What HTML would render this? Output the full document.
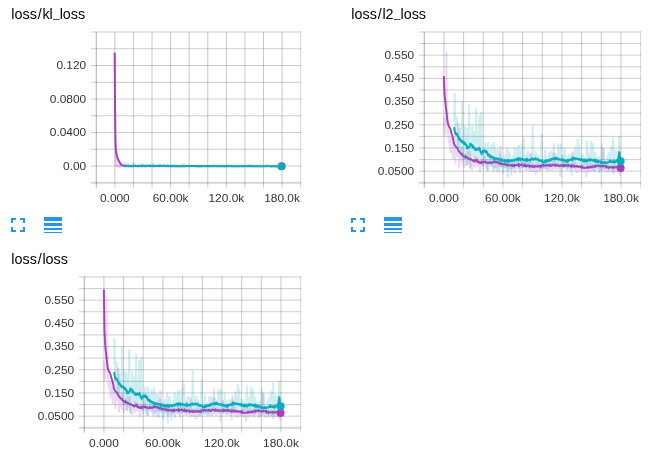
<!DOCTYPE html>
<html><head><meta charset="utf-8"><title>TensorBoard scalars</title>
<style>
html,body{margin:0;padding:0;background:#fff;}
body{width:672px;height:453px;overflow:hidden;font-family:"Liberation Sans",sans-serif;}
svg{display:block;}
</style></head>
<body>
<svg width="672" height="453" viewBox="0 0 672 453">
<rect width="672" height="453" fill="#fff"/>
<g stroke="#3c3c3c" stroke-opacity="0.28" stroke-width="1" fill="none"><line x1="90.98" y1="32.00" x2="301.07" y2="32.00" stroke-opacity="0.26"/><line x1="90.98" y1="48.76" x2="301.07" y2="48.76" stroke-opacity="0.26"/><line x1="90.98" y1="65.51" x2="301.07" y2="65.51" stroke-opacity="0.26"/><line x1="90.98" y1="82.27" x2="301.07" y2="82.27" stroke-opacity="0.26"/><line x1="90.98" y1="99.02" x2="301.07" y2="99.02" stroke-opacity="0.26"/><line x1="90.98" y1="115.78" x2="301.07" y2="115.78" stroke-opacity="0.26"/><line x1="90.98" y1="132.53" x2="301.07" y2="132.53" stroke-opacity="0.26"/><line x1="90.98" y1="149.29" x2="301.07" y2="149.29" stroke-opacity="0.26"/><line x1="90.98" y1="166.04" x2="301.07" y2="166.04" stroke-opacity="0.26"/><line x1="90.98" y1="182.80" x2="301.07" y2="182.80" stroke-width="2" stroke-opacity="0.21"/><line x1="96.28" y1="31.60" x2="96.28" y2="187.70" stroke-opacity="0.43"/><line x1="114.86" y1="31.60" x2="114.86" y2="187.70"/><line x1="133.44" y1="31.60" x2="133.44" y2="187.70"/><line x1="152.02" y1="31.60" x2="152.02" y2="187.70"/><line x1="170.60" y1="31.60" x2="170.60" y2="187.70"/><line x1="189.18" y1="31.60" x2="189.18" y2="187.70"/><line x1="207.77" y1="31.60" x2="207.77" y2="187.70"/><line x1="226.35" y1="31.60" x2="226.35" y2="187.70"/><line x1="244.93" y1="31.60" x2="244.93" y2="187.70"/><line x1="263.51" y1="31.60" x2="263.51" y2="187.70"/><line x1="282.09" y1="31.60" x2="282.09" y2="187.70"/><line x1="300.67" y1="31.60" x2="300.67" y2="187.70" stroke-opacity="0.21"/></g>
<g stroke="#3c3c3c" stroke-opacity="0.28" stroke-width="1" fill="none"><line x1="418.96" y1="32.00" x2="641.07" y2="32.00" stroke-opacity="0.26"/><line x1="418.96" y1="43.60" x2="641.07" y2="43.60" stroke-opacity="0.26"/><line x1="418.96" y1="55.20" x2="641.07" y2="55.20" stroke-opacity="0.26"/><line x1="418.96" y1="66.80" x2="641.07" y2="66.80" stroke-opacity="0.26"/><line x1="418.96" y1="78.40" x2="641.07" y2="78.40" stroke-opacity="0.26"/><line x1="418.96" y1="90.00" x2="641.07" y2="90.00" stroke-opacity="0.26"/><line x1="418.96" y1="101.60" x2="641.07" y2="101.60" stroke-opacity="0.26"/><line x1="418.96" y1="113.20" x2="641.07" y2="113.20" stroke-opacity="0.26"/><line x1="418.96" y1="124.80" x2="641.07" y2="124.80" stroke-opacity="0.26"/><line x1="418.96" y1="136.40" x2="641.07" y2="136.40" stroke-opacity="0.26"/><line x1="418.96" y1="148.00" x2="641.07" y2="148.00" stroke-opacity="0.26"/><line x1="418.96" y1="159.60" x2="641.07" y2="159.60" stroke-opacity="0.26"/><line x1="418.96" y1="171.20" x2="641.07" y2="171.20" stroke-opacity="0.26"/><line x1="418.96" y1="182.80" x2="641.07" y2="182.80" stroke-width="2" stroke-opacity="0.21"/><line x1="424.26" y1="31.60" x2="424.26" y2="187.70" stroke-opacity="0.43"/><line x1="443.93" y1="31.60" x2="443.93" y2="187.70"/><line x1="463.61" y1="31.60" x2="463.61" y2="187.70"/><line x1="483.28" y1="31.60" x2="483.28" y2="187.70"/><line x1="502.95" y1="31.60" x2="502.95" y2="187.70"/><line x1="522.63" y1="31.60" x2="522.63" y2="187.70"/><line x1="542.30" y1="31.60" x2="542.30" y2="187.70"/><line x1="561.98" y1="31.60" x2="561.98" y2="187.70"/><line x1="581.65" y1="31.60" x2="581.65" y2="187.70"/><line x1="601.32" y1="31.60" x2="601.32" y2="187.70"/><line x1="621.00" y1="31.60" x2="621.00" y2="187.70"/><line x1="640.67" y1="31.60" x2="640.67" y2="187.70" stroke-opacity="0.21"/></g>
<g stroke="#3c3c3c" stroke-opacity="0.28" stroke-width="1" fill="none"><line x1="78.96" y1="276.95" x2="301.07" y2="276.95" stroke-opacity="0.26"/><line x1="78.96" y1="288.55" x2="301.07" y2="288.55" stroke-opacity="0.26"/><line x1="78.96" y1="300.15" x2="301.07" y2="300.15" stroke-opacity="0.26"/><line x1="78.96" y1="311.75" x2="301.07" y2="311.75" stroke-opacity="0.26"/><line x1="78.96" y1="323.35" x2="301.07" y2="323.35" stroke-opacity="0.26"/><line x1="78.96" y1="334.95" x2="301.07" y2="334.95" stroke-opacity="0.26"/><line x1="78.96" y1="346.55" x2="301.07" y2="346.55" stroke-opacity="0.26"/><line x1="78.96" y1="358.15" x2="301.07" y2="358.15" stroke-opacity="0.26"/><line x1="78.96" y1="369.75" x2="301.07" y2="369.75" stroke-opacity="0.26"/><line x1="78.96" y1="381.35" x2="301.07" y2="381.35" stroke-opacity="0.26"/><line x1="78.96" y1="392.95" x2="301.07" y2="392.95" stroke-opacity="0.26"/><line x1="78.96" y1="404.55" x2="301.07" y2="404.55" stroke-opacity="0.26"/><line x1="78.96" y1="416.15" x2="301.07" y2="416.15" stroke-opacity="0.26"/><line x1="78.96" y1="427.75" x2="301.07" y2="427.75" stroke-width="2" stroke-opacity="0.21"/><line x1="84.26" y1="276.55" x2="84.26" y2="432.65" stroke-opacity="0.43"/><line x1="103.93" y1="276.55" x2="103.93" y2="432.65"/><line x1="123.61" y1="276.55" x2="123.61" y2="432.65"/><line x1="143.28" y1="276.55" x2="143.28" y2="432.65"/><line x1="162.95" y1="276.55" x2="162.95" y2="432.65"/><line x1="182.63" y1="276.55" x2="182.63" y2="432.65"/><line x1="202.30" y1="276.55" x2="202.30" y2="432.65"/><line x1="221.98" y1="276.55" x2="221.98" y2="432.65"/><line x1="241.65" y1="276.55" x2="241.65" y2="432.65"/><line x1="261.32" y1="276.55" x2="261.32" y2="432.65"/><line x1="281.00" y1="276.55" x2="281.00" y2="432.65"/><line x1="300.67" y1="276.55" x2="300.67" y2="432.65" stroke-opacity="0.21"/></g>
<polygon points="115.2,125 115.6,145 116.1,151.5 116.8,155.5 117.8,158.8 119,161.2 120.2,163.3 121.5,164.8 122.5,165.8 121,166.5 115.6,166.7 114.9,150" fill="#a53fba" fill-opacity="0.17"/>
<polyline points="114.9,52.8 115.2,166.0" fill="none" stroke="#a53fba" stroke-width="1.5" stroke-opacity="0.2" stroke-linejoin="round" stroke-miterlimit="2.2" stroke-linecap="butt"/>
<polyline points="116.0,165.7 116.6,166.7 117.2,165.0 117.8,167.7 118.4,165.6 119.0,166.6 119.6,164.9 120.2,168.1 120.8,164.9 121.4,165.9 122.0,165.3 122.6,166.0 123.2,164.7 123.8,167.7 124.4,165.6 125.0,166.7 125.6,165.6 126.2,168.3 126.8,163.2 127.4,166.9 128.0,163.3 128.6,168.3 129.2,165.4 129.8,166.1 130.4,165.1 131.0,167.8 131.6,165.4 132.2,167.6 132.8,165.7 133.4,163.5 134.0,162.9 134.6,166.4 135.2,165.3 135.8,166.8 136.4,165.2 137.0,166.2 137.6,165.7 138.2,167.7 138.8,165.7 139.4,166.4 140.0,164.3 140.6,166.6 141.2,163.6 141.8,167.9 142.4,164.5 143.0,166.0 143.6,164.6 144.2,167.1 144.8,165.8 145.4,167.5 146.0,165.7 146.6,166.2 147.2,163.5 147.8,166.6 148.4,165.5 149.0,166.5 149.6,164.0 150.2,168.0 150.8,165.5 151.4,167.7 152.0,167.8 152.6,167.0 153.2,163.0 153.8,166.7 154.4,165.4 155.0,167.0 155.6,164.7 156.2,166.0 156.8,165.8 157.4,166.7 158.0,165.1 158.6,166.6 159.2,165.8 159.8,166.3 160.4,163.7 161.0,166.6 161.6,165.6 162.2,166.5 162.8,165.9 163.4,166.4 164.0,165.9 164.6,166.5 165.2,165.6 165.8,167.2 166.4,165.0 167.0,166.7 167.6,163.4 168.2,167.4 168.8,165.6 169.4,167.6 170.0,165.3 170.6,166.1 171.2,164.0 171.8,166.7 172.4,165.8 173.0,166.1 173.6,164.3 174.2,166.2 174.8,164.7 175.4,166.3 176.0,164.8 176.6,167.3 177.2,166.0 177.8,166.2 178.4,165.8 179.0,166.2 179.6,165.9 180.2,166.7 180.8,166.0 181.4,166.8 182.0,163.6 182.6,167.3 183.2,165.0 183.8,166.6 184.4,163.6 185.0,166.1 185.6,165.5 186.2,166.1 186.8,165.9 187.4,166.2 188.0,164.7 188.6,166.4 189.2,165.4 189.8,167.4 190.4,165.6 191.0,167.2 191.6,165.8 192.2,166.7 192.8,165.5 193.4,166.3 194.0,166.1 194.6,167.2 195.2,165.2 195.8,166.2 196.4,165.4 197.0,166.1 197.6,165.3 198.2,166.6 198.8,165.9 199.4,166.8 200.0,167.6 200.6,167.4 201.2,166.0 201.8,166.5 202.4,166.0 203.0,166.2 203.6,165.7 204.2,166.2 204.8,166.0 205.4,166.7 206.0,166.0 206.6,166.8 207.2,165.5 207.8,166.4 208.4,165.9 209.0,166.8 209.6,166.0 210.2,166.4 210.8,165.2 211.4,166.7 212.0,165.5 212.6,167.1 213.2,164.6 213.8,166.4 214.4,165.1 215.0,166.2 215.6,165.7 216.2,166.2 216.8,166.1 217.4,166.2 218.0,165.2 218.6,166.5 219.2,165.9 219.8,166.3 220.4,166.1 221.0,166.7 221.6,165.8 222.2,166.6 222.8,165.9 223.4,167.4 224.0,165.7 224.6,167.5 225.2,166.1 225.8,166.6 226.4,165.5 227.0,167.2 227.6,163.9 228.2,166.2 228.8,165.9 229.4,166.4 230.0,165.6 230.6,166.9 231.2,166.1 231.8,166.8 232.4,165.9 233.0,167.5 233.6,165.9 234.2,166.5 234.8,166.1 235.4,166.2 236.0,166.1 236.6,166.6 237.2,165.8 237.8,167.1 238.4,165.5 239.0,167.1 239.6,165.8 240.2,166.3 240.8,165.7 241.4,166.7 242.0,166.0 242.6,166.6 243.2,166.2 243.8,166.6 244.4,165.3 245.0,166.4 245.6,165.0 246.2,166.3 246.8,166.0 247.4,166.9 248.0,165.9 248.6,167.1 249.2,164.0 249.8,166.3 250.4,166.2 251.0,166.9 251.6,165.3 252.2,166.3 252.8,164.7 253.4,166.4 254.0,165.2 254.6,167.1 255.2,165.5 255.8,166.8 256.4,165.4 257.0,167.0 257.6,166.0 258.2,166.8 258.8,165.6 259.4,166.5 260.0,165.0 260.6,167.6 261.2,166.2 261.8,166.7 262.4,166.0 263.0,166.5 263.6,166.1 264.2,166.8 264.8,165.7 265.4,166.7 266.0,164.2 266.6,166.5 267.2,165.3 267.8,166.5 268.4,164.1 269.0,166.3 269.6,165.4 270.2,166.4 270.8,165.6 271.4,166.8 272.0,165.5 272.6,166.4 273.2,166.0 273.8,167.6 274.4,166.1 275.0,166.5 275.6,165.5 276.2,166.6 276.8,166.1 277.4,166.7 278.0,166.0 278.6,166.6 279.2,164.3 279.8,166.9 280.4,165.6 281.0,166.4" fill="none" stroke="#a53fba" stroke-width="1.6" stroke-opacity="0.2" stroke-linejoin="bevel" stroke-miterlimit="2.2" stroke-linecap="butt"/>
<polyline points="124.3,162.4 124.9,166.1 125.5,162.5 126.1,166.1 126.7,165.7 127.3,167.0 127.9,165.5 128.5,166.9 129.1,163.7 129.7,166.2 130.3,165.5 130.9,168.1 131.5,165.0 132.1,167.2 132.7,163.5 133.3,166.5 133.9,164.8 134.5,167.7 135.1,165.1 135.7,166.5 136.3,165.6 136.9,166.6 137.5,165.2 138.1,167.5 138.7,163.5 139.3,166.3 139.9,165.2 140.5,167.8 141.1,164.9 141.7,166.4 142.3,163.4 142.9,166.4 143.5,165.6 144.1,166.3 144.7,165.1 145.3,167.7 145.9,165.8 146.5,166.5 147.1,165.8 147.7,167.0 148.3,165.9 148.9,166.2 149.5,164.0 150.1,166.0 150.7,165.4 151.3,166.7 151.9,165.2 152.5,166.1 153.1,164.2 153.7,166.2 154.3,165.4 154.9,166.6 155.5,165.7 156.1,166.7 156.7,165.6 157.3,166.5 157.9,165.2 158.5,166.3 159.1,163.8 159.7,166.0 160.3,165.7 160.9,166.6 161.5,164.2 162.1,166.3 162.7,164.0 163.3,166.7 163.9,165.9 164.5,166.1 165.1,164.6 165.7,166.4 166.3,165.7 166.9,166.7 167.5,165.8 168.1,166.3 168.7,166.0 169.3,166.3 169.9,165.5 170.5,166.3 171.1,165.9 171.7,166.9 172.3,165.3 172.9,166.6 173.5,165.0 174.1,166.2 174.7,164.5 175.3,167.2 175.9,165.6 176.5,166.3 177.1,165.6 177.7,167.3 178.3,165.2 178.9,167.0 179.5,165.7 180.1,166.2 180.7,165.8 181.3,166.9 181.9,165.2 182.5,166.4 183.1,164.4 183.7,166.8 184.3,166.0 184.9,166.9 185.5,165.8 186.1,166.1 186.7,166.0 187.3,166.3 187.9,165.9 188.5,166.6 189.1,166.0 189.7,166.6 190.3,166.0 190.9,166.2 191.5,165.9 192.1,166.1 192.7,166.0 193.3,167.2 193.9,165.9 194.5,166.6 195.1,166.0 195.7,166.4 196.3,165.9 196.9,166.2 197.5,165.1 198.1,167.3 198.7,166.1 199.3,166.8 199.9,166.1 200.5,166.8 201.1,166.0 201.7,166.6 202.3,165.4 202.9,166.1 203.5,165.4 204.1,166.5 204.7,166.0 205.3,166.2 205.9,165.9 206.5,166.8 207.1,166.0 207.7,166.4 208.3,164.9 208.9,166.2 209.5,165.8 210.1,166.3 210.7,165.6 211.3,166.7 211.9,166.1 212.5,166.3 213.1,165.4 213.7,166.9 214.3,164.5 214.9,166.1 215.5,165.2 216.1,166.2 216.7,166.1 217.3,166.8 217.9,165.9 218.5,166.8 219.1,166.1 219.7,166.9 220.3,165.9 220.9,166.4 221.5,165.3 222.1,166.4 222.7,165.0 223.3,166.6 223.9,165.2 224.5,166.3 225.1,165.8 225.7,166.3 226.3,166.1 226.9,166.5 227.5,165.2 228.1,167.0 228.7,165.3 229.3,166.2 229.9,164.5 230.5,166.4 231.1,165.1 231.7,166.7 232.3,165.4 232.9,166.7 233.5,166.1 234.1,166.7 234.7,166.1 235.3,166.7 235.9,166.0 236.5,166.3 237.1,165.8 237.7,166.5 238.3,165.8 238.9,166.2 239.5,165.2 240.1,166.7 240.7,165.5 241.3,166.6 241.9,166.2 242.5,166.9 243.1,165.4 243.7,166.4 244.3,165.3 244.9,166.4 245.5,166.1 246.1,166.3 246.7,165.9 247.3,167.2 247.9,165.9 248.5,166.6 249.1,165.7 249.7,166.2 250.3,164.6 250.9,166.7 251.5,164.8 252.1,166.4 252.7,165.4 253.3,167.3 253.9,165.7 254.5,166.4 255.1,166.1 255.7,166.6 256.3,166.2 256.9,166.6 257.5,166.2 258.1,166.4 258.7,166.1 259.3,166.7 259.9,166.0 260.5,166.6 261.1,166.2 261.7,166.8 262.3,166.0 262.9,166.3 263.5,165.4 264.1,166.5 264.7,165.2 265.3,166.8 265.9,164.7 266.5,166.4 267.1,164.7 267.7,166.4 268.3,165.9 268.9,166.3 269.5,166.1 270.1,166.5 270.7,166.1 271.3,166.4 271.9,164.7 272.5,166.4 273.1,165.4 273.7,166.7 274.3,165.5 274.9,166.7 275.5,165.9 276.1,166.7 276.7,166.0 277.3,166.5 277.9,165.1 278.5,166.8 279.1,165.8 279.7,166.6 280.3,166.3 280.9,166.7 281.5,165.7" fill="none" stroke="#0aabc0" stroke-width="1.6" stroke-opacity="0.2" stroke-linejoin="bevel" stroke-miterlimit="2.2" stroke-linecap="butt"/>
<polyline points="114.7,52.8 115.0,100.0 115.3,130.0 115.6,145.0 116.1,151.5 116.8,155.5 117.8,158.8 119.0,161.2 120.2,163.3 121.5,164.8 123.0,165.5 125.0,165.8" fill="none" stroke="#a53fba" stroke-width="2.0" stroke-opacity="1.0" stroke-linejoin="round" stroke-miterlimit="2.2" stroke-linecap="butt"/>
<polyline points="124.3,165.9 125.8,165.9 127.3,166.0 128.8,166.0 130.3,166.0 131.8,166.0 133.3,166.0 134.8,165.8 136.3,165.9 137.8,166.0 139.3,166.0 140.8,166.0 142.3,165.9 143.8,165.9 145.3,165.9 146.8,166.0 148.3,166.0 149.8,165.9 151.3,165.9 152.8,165.9 154.3,166.1 155.8,166.0 157.3,165.9 158.8,166.1 160.3,165.9 161.8,166.0 163.3,165.9 164.8,165.9 166.3,166.1 167.8,165.9 169.3,166.0 170.8,166.1 172.3,166.1 173.8,166.0 175.3,166.1 176.8,166.0 178.3,166.1 179.8,166.0 181.3,166.2 182.8,166.1 184.3,166.2 185.8,166.2 187.3,166.0 188.8,166.0 190.3,166.0 191.8,166.0 193.3,166.0 194.8,166.0 196.3,166.1 197.8,166.0 199.3,166.1 200.8,166.1 202.3,166.1 203.8,166.2 205.3,166.1 206.8,166.1 208.3,166.1 209.8,166.2 211.3,166.0 212.8,166.2 214.3,166.0 215.8,166.2 217.3,166.2 218.8,166.0 220.3,166.2 221.8,166.1 223.3,166.2 224.8,166.0 226.3,166.1 227.8,166.1 229.3,166.3 230.8,166.1 232.3,166.2 233.8,166.3 235.3,166.3 236.8,166.2 238.3,166.2 239.8,166.2 241.3,166.3 242.8,166.1 244.3,166.3 245.8,166.3 247.3,166.3 248.8,166.1 250.3,166.3 251.8,166.1 253.3,166.2 254.8,166.3 256.3,166.3 257.8,166.2 259.3,166.3 260.8,166.3 262.3,166.2 263.8,166.2 265.3,166.2 266.8,166.2 268.3,166.2 269.8,166.3 271.3,166.4 272.8,166.2 274.3,166.2 275.8,166.4 277.3,166.3 278.8,166.3 280.3,166.2 281.5,166.3" fill="none" stroke="#0aabc0" stroke-width="2.1" stroke-opacity="1.0" stroke-linejoin="round" stroke-miterlimit="2.2" stroke-linecap="butt"/>
<circle cx="281.8" cy="166.2" r="3.9" fill="#a53fba"/>
<circle cx="281.25" cy="166.3" r="3.9" fill="#0aabc0"/>
<polyline points="443.9,116.2 444.4,135.5 444.9,120.5 445.4,133.8 445.9,122.7 446.4,51.8 446.9,124.9 447.4,100.0 447.9,127.0 448.4,138.5 448.9,142.0 449.4,143.0 449.9,136.5 450.4,153.0 450.9,140.8 451.4,152.7 451.9,134.6 452.4,154.0 452.9,159.0 453.4,151.6 453.9,144.4 454.4,155.2 454.9,146.3 455.4,164.0 455.9,147.8 456.4,155.1 456.9,148.3 457.4,157.0 457.9,149.8 458.4,122.6 458.9,167.5 459.4,160.8 459.9,151.2 460.4,160.3 460.9,152.7 461.4,161.8 461.9,147.3 462.4,164.8 462.9,152.1 463.4,160.6 463.9,168.0 464.4,161.2 464.9,155.7 465.4,163.4 465.9,153.4 466.4,165.6 466.9,155.8 467.4,164.9 467.9,151.0 468.4,162.5 468.9,157.1 469.4,162.9 469.9,151.0 470.4,168.4 470.9,157.6 471.4,165.1 471.9,170.0 472.4,167.0 472.9,158.7 473.4,166.9 473.9,158.9 474.4,166.5 474.9,156.0 475.4,167.8 475.9,158.0 476.4,164.3 476.9,160.0 477.4,165.9 477.9,157.6 478.4,166.4 478.9,159.7 479.4,167.9 479.9,172.0 480.4,165.5 480.9,159.0 481.4,166.3 481.9,160.4 482.4,166.1 482.9,159.7 483.4,165.1 483.9,154.6 484.4,165.1 484.9,156.8 485.4,166.5 485.9,160.4 486.4,168.4 486.9,159.5 487.4,167.9 487.9,171.0 488.4,166.9 488.9,160.9 489.4,165.7 489.9,159.0 490.4,166.4 490.9,161.4 491.4,167.1 491.9,161.3 492.4,166.6 492.9,159.6 493.4,165.7 493.9,160.0 494.4,169.1 494.9,159.8 495.4,166.3 495.9,159.5 496.4,165.7 496.9,172.0 497.4,166.0 497.9,157.6 498.4,166.0 498.9,161.2 499.4,167.0 499.9,159.8 500.4,145.5 500.9,157.6 501.4,166.7 501.9,159.2 502.4,168.0 502.9,162.5 503.4,167.8 503.9,162.8 504.4,168.1 504.9,161.2 505.4,167.3 505.9,162.8 506.4,168.3 506.9,163.0 507.4,169.6 507.9,171.0 508.4,167.9 508.9,163.7 509.4,168.6 509.9,163.0 510.4,169.5 510.9,163.8 511.4,170.0 511.9,160.7 512.4,168.2 512.9,163.9 513.4,168.4 513.9,163.4 514.4,169.0 514.9,173.0 515.4,168.2 515.9,162.8 516.4,168.8 516.9,160.8 517.4,168.8 517.9,159.4 518.4,169.0 518.9,162.6 519.4,169.7 519.9,157.0 520.4,167.8 520.9,160.5 521.4,167.6 521.9,162.1 522.4,167.8 522.9,162.5 523.4,167.7 523.9,163.2 524.4,168.0 524.9,159.8 525.4,170.4 525.9,164.3 526.4,170.8 526.9,161.4 527.4,169.1 527.9,162.9 528.4,169.2 528.9,161.5 529.4,171.4 529.9,164.4 530.4,170.0 530.9,153.1 531.4,172.0 531.9,164.4 532.4,169.5 532.9,163.9 533.4,171.9 533.9,163.7 534.4,170.2 534.9,163.7 535.4,170.0 535.9,174.3 536.4,171.9 536.9,162.1 537.4,172.3 537.9,163.3 538.4,170.7 538.9,163.9 539.4,170.4 539.9,164.3 540.4,168.8 540.9,162.9 541.4,168.8 541.9,164.5 542.4,169.5 542.9,164.0 543.4,168.8 543.9,162.5 544.4,169.8 544.9,160.5 545.4,167.4 545.9,163.5 546.4,168.9 546.9,162.5 547.4,167.6 547.9,163.7 548.4,169.3 548.9,162.7 549.4,170.8 549.9,163.4 550.4,168.8 550.9,162.7 551.4,168.5 551.9,171.0 552.4,170.2 552.9,160.7 553.4,168.7 553.9,143.2 554.4,169.0 554.9,163.4 555.4,168.8 555.9,163.7 556.4,170.6 556.9,161.6 557.4,167.7 557.9,162.6 558.4,169.0 558.9,164.1 559.4,168.3 559.9,163.6 560.4,177.0 560.9,163.7 561.4,169.0 561.9,163.1 562.4,169.3 562.9,155.1 563.4,168.0 563.9,160.2 564.4,168.4 564.9,164.3 565.4,167.9 565.9,161.5 566.4,170.1 566.9,163.0 567.4,168.2 567.9,163.7 568.4,167.7 568.9,164.1 569.4,168.1 569.9,163.6 570.4,170.9 570.9,164.1 571.4,168.4 571.9,164.4 572.4,150.5 572.9,163.9 573.4,168.9 573.9,163.5 574.4,170.0 574.9,160.8 575.4,170.9 575.9,163.6 576.4,173.0 576.9,165.0 577.4,173.0 577.9,165.3 578.4,171.4 578.9,165.2 579.4,169.4 579.9,165.2 580.4,170.5 580.9,164.8 581.4,171.4 581.9,164.7 582.4,169.6 582.9,164.1 583.4,171.3 583.9,163.3 584.4,173.1 584.9,164.8 585.4,171.8 585.9,166.2 586.4,177.0 586.9,158.0 587.4,170.4 587.9,165.7 588.4,172.7 588.9,164.1 589.4,170.9 589.9,162.2 590.4,171.6 590.9,165.5 591.4,169.7 591.9,163.9 592.4,169.9 592.9,163.7 593.4,170.8 593.9,164.8 594.4,172.0 594.9,160.7 595.4,170.8 595.9,163.6 596.4,168.3 596.9,161.4 597.4,169.3 597.9,162.0 598.4,168.4 598.9,163.8 599.4,168.6 599.9,172.0 600.4,168.3 600.9,164.7 601.4,170.0 601.9,162.6 602.4,170.9 602.9,147.8 603.4,169.5 603.9,164.5 604.4,168.7 604.9,172.3 605.4,169.4 605.9,164.3 606.4,169.3 606.9,164.0 607.4,172.2 607.9,162.1 608.4,173.0 608.9,166.1 609.4,170.0 609.9,166.2 610.4,171.2 610.9,164.7 611.4,170.0 611.9,165.0 612.4,172.8 612.9,165.2 613.4,170.1 613.9,165.7 614.4,171.8 614.9,163.0 615.4,171.5 615.9,165.6 616.4,171.7 616.9,164.9 617.4,172.7 617.9,164.9 618.4,170.1 618.9,165.2 619.4,171.5 619.9,175.7 620.4,173.3 620.9,165.4" fill="none" stroke="#a53fba" stroke-width="2.0" stroke-opacity="0.2" stroke-linejoin="bevel" stroke-miterlimit="2.2" stroke-linecap="butt"/><polyline points="443.9,76.0 444.4,93.0 444.9,98.0 445.4,102.7 445.9,106.9 446.4,111.2 446.9,115.8 447.4,120.6 447.9,123.4 448.4,124.8 448.9,126.2 449.4,127.3 449.9,127.7 450.4,129.3 450.9,131.0 451.4,133.1 451.9,134.7 452.4,135.7 452.9,138.1 453.4,140.1 453.9,143.5 454.4,144.5 454.9,145.3 455.4,146.2 455.9,146.6 456.4,147.4 456.9,147.7 457.4,147.8 457.9,149.8 458.4,150.3 458.9,151.4 459.4,151.9 459.9,152.4 460.4,153.1 460.9,153.6 461.4,153.8 461.9,153.9 462.4,155.4 462.9,155.7 463.4,156.4 463.9,156.2 464.4,156.4 464.9,157.0 465.4,156.4 465.9,157.6 466.4,157.5 466.9,157.3 467.4,157.6 467.9,158.3 468.4,158.2 468.9,158.7 469.4,159.2 469.9,159.1 470.4,158.9 470.9,159.6 471.4,159.4 471.9,159.8 472.4,160.1 472.9,160.7 473.4,160.6 473.9,161.3 474.4,161.5 474.9,160.6 475.4,160.8 475.9,160.7 476.4,159.1 476.9,160.0 477.4,162.1 477.9,162.3 478.4,162.2 478.9,161.7 479.4,162.2 479.9,163.0 480.4,163.0 480.9,162.8 481.4,162.0 481.9,162.8 482.4,161.9 482.9,162.1 483.4,161.1 483.9,162.1 484.4,161.8 484.9,162.2 485.4,161.7 485.9,162.5 486.4,162.6 486.9,162.8 487.4,162.6 487.9,163.1 488.4,162.6 488.9,162.6 489.4,162.4 489.9,163.1 490.4,162.4 490.9,162.6 491.4,162.4 491.9,163.1 492.4,162.8 492.9,162.6 493.4,161.7 493.9,162.1 494.4,162.0 494.9,161.7 495.4,161.6 495.9,162.9 496.4,161.8 496.9,162.1 497.4,162.2 497.9,162.8 498.4,162.3 498.9,162.9 499.4,162.9 499.9,163.7 500.4,162.8 500.9,163.3 501.4,163.7 501.9,164.4 502.4,164.0 502.9,164.0 503.4,164.4 503.9,164.0 504.4,163.7 504.9,164.4 505.4,165.0 505.9,164.9 506.4,164.4 506.9,165.1 507.4,165.4 507.9,164.8 508.4,165.4 508.9,165.2 509.4,165.2 509.9,165.3 510.4,165.2 510.9,165.4 511.4,165.1 511.9,165.5 512.4,165.2 512.9,166.0 513.4,165.8 513.9,165.0 514.4,165.9 514.9,165.1 515.4,165.4 515.9,165.4 516.4,165.1 516.9,165.0 517.4,165.1 517.9,164.7 518.4,165.6 518.9,164.7 519.4,165.5 519.9,164.8 520.4,164.9 520.9,165.0 521.4,164.6 521.9,164.7 522.4,165.0 522.9,165.1 523.4,165.7 523.9,166.0 524.4,164.9 524.9,165.6 525.4,165.2 525.9,166.1 526.4,165.6 526.9,166.3 527.4,166.0 527.9,165.6 528.4,165.5 528.9,165.8 529.4,166.6 529.9,165.8 530.4,166.3 530.9,166.2 531.4,166.2 531.9,166.7 532.4,166.0 532.9,166.6 533.4,166.5 533.9,166.8 534.4,166.3 534.9,166.7 535.4,166.1 535.9,166.3 536.4,166.4 536.9,166.7 537.4,166.8 537.9,165.9 538.4,165.9 538.9,166.4 539.4,166.8 539.9,166.3 540.4,165.9 540.9,166.6 541.4,165.7 541.9,165.3 542.4,165.2 542.9,165.0 543.4,165.7 543.9,164.9 544.4,165.4 544.9,165.5 545.4,165.7 545.9,165.5 546.4,165.1 546.9,165.4 547.4,165.6 547.9,165.5 548.4,165.1 548.9,165.6 549.4,164.9 549.9,165.2 550.4,165.9 550.9,165.3 551.4,165.1 551.9,165.6 552.4,165.2 552.9,164.7 553.4,164.7 553.9,164.9 554.4,165.0 554.9,165.6 555.4,164.8 555.9,165.6 556.4,165.6 556.9,165.2 557.4,165.9 557.9,165.7 558.4,165.5 558.9,165.3 559.4,165.6 559.9,166.1 560.4,165.7 560.9,165.3 561.4,165.5 561.9,165.6 562.4,165.3 562.9,165.8 563.4,165.2 563.9,166.0 564.4,165.2 564.9,165.1 565.4,165.6 565.9,165.2 566.4,165.8 566.9,165.3 567.4,165.4 567.9,165.8 568.4,165.1 568.9,165.8 569.4,165.7 569.9,165.5 570.4,166.1 570.9,165.1 571.4,166.1 571.9,165.4 572.4,166.2 572.9,165.5 573.4,165.5 573.9,166.0 574.4,166.6 574.9,165.9 575.4,166.2 575.9,166.4 576.4,166.1 576.9,166.5 577.4,166.0 577.9,166.5 578.4,166.9 578.9,166.5 579.4,166.4 579.9,166.3 580.4,167.1 580.9,166.9 581.4,167.5 581.9,167.4 582.4,166.8 582.9,167.8 583.4,167.9 583.9,167.9 584.4,168.0 584.9,167.9 585.4,167.9 585.9,167.8 586.4,167.7 586.9,167.3 587.4,167.1 587.9,167.8 588.4,167.5 588.9,166.9 589.4,167.4 589.9,167.3 590.4,167.1 590.9,167.4 591.4,167.4 591.9,166.7 592.4,167.1 592.9,166.6 593.4,166.5 593.9,166.2 594.4,166.7 594.9,166.0 595.4,166.5 595.9,165.7 596.4,165.9 596.9,166.2 597.4,165.9 597.9,165.6 598.4,165.3 598.9,165.8 599.4,165.7 599.9,166.2 600.4,166.2 600.9,166.4 601.4,165.9 601.9,165.9 602.4,166.1 602.9,166.4 603.4,165.7 603.9,165.9 604.4,165.9 604.9,166.1 605.4,166.1 605.9,167.0 606.4,166.3 606.9,167.2 607.4,166.7 607.9,166.8 608.4,167.8 608.9,167.0 609.4,167.1 609.9,167.3 610.4,167.2 610.9,167.5 611.4,167.3 611.9,167.2 612.4,167.0 612.9,167.7 613.4,166.9 613.9,167.1 614.4,167.4 614.9,167.6 615.4,167.3 615.9,167.3 616.4,167.2 616.9,167.4 617.4,167.5 617.9,166.8 618.4,166.8 618.9,167.5 619.4,167.4 619.9,167.5 620.4,167.8 620.9,167.2 621.0,167.6" fill="none" stroke="#a53fba" stroke-width="1.9" stroke-opacity="1.0" stroke-linejoin="miter" stroke-miterlimit="2.2" stroke-linecap="butt"/><polyline points="454.2,119.9 454.7,93.2 455.2,128.0 455.7,149.0 456.2,130.1 456.7,116.5 457.2,123.3 457.7,147.9 458.2,127.9 458.7,151.7 459.2,130.4 459.7,128.0 460.2,136.0 460.7,152.4 461.2,127.7 461.7,151.8 462.2,101.5 462.7,151.7 463.2,160.0 463.7,152.9 464.2,138.3 464.7,126.0 465.2,141.4 465.7,157.6 466.2,142.2 466.7,127.6 467.2,166.0 467.7,158.5 468.2,132.6 468.7,157.2 469.2,104.0 469.7,154.8 470.2,168.0 470.7,154.1 471.2,140.8 471.7,157.2 472.2,125.4 472.7,156.4 473.2,138.2 473.7,156.1 474.2,131.0 474.7,159.9 475.2,144.2 475.7,159.6 476.2,108.7 476.7,161.8 477.2,135.8 477.7,157.3 478.2,135.6 478.7,157.8 479.2,115.3 479.7,158.8 480.2,143.8 480.7,159.5 481.2,111.5 481.7,162.0 482.2,148.9 482.7,164.0 483.2,170.0 483.7,158.6 484.2,148.4 484.7,159.1 485.2,142.1 485.7,160.7 486.2,148.9 486.7,161.9 487.2,171.0 487.7,161.8 488.2,141.6 488.7,163.0 489.2,149.3 489.7,162.8 490.2,153.5 490.7,163.5 491.2,151.6 491.7,143.8 492.2,155.0 492.7,165.8 493.2,172.0 493.7,165.0 494.2,141.9 494.7,167.6 495.2,147.6 495.7,165.9 496.2,156.2 496.7,167.3 497.2,156.3 497.7,149.0 498.2,153.4 498.7,166.0 499.2,173.0 499.7,166.1 500.2,153.6 500.7,166.9 501.2,157.7 501.7,167.5 502.2,157.8 502.7,170.8 503.2,174.0 503.7,170.5 504.2,156.3 504.7,168.3 505.2,154.2 505.7,166.8 506.2,153.8 506.7,167.6 507.2,147.6 507.7,178.3 508.2,157.1 508.7,167.9 509.2,151.3 509.7,168.0 510.2,153.2 510.7,167.7 511.2,175.5 511.7,168.0 512.2,157.8 512.7,168.7 513.2,155.4 513.7,166.9 514.2,155.1 514.7,147.2 515.2,157.2 515.7,167.1 516.2,154.8 516.7,165.6 517.2,148.5 517.7,165.9 518.2,155.8 518.7,145.2 519.2,149.3 519.7,167.0 520.2,173.0 520.7,168.1 521.2,149.6 521.7,168.2 522.2,143.2 522.7,167.4 523.2,152.0 523.7,137.9 524.2,153.9 524.7,166.8 525.2,156.6 525.7,166.1 526.2,154.6 526.7,165.6 527.2,154.9 527.7,151.1 528.2,152.2 528.7,166.3 529.2,151.9 529.7,168.9 530.2,155.7 530.7,165.3 531.2,157.2 531.7,166.5 532.2,156.3 532.7,125.3 533.2,154.6 533.7,168.7 534.2,155.4 534.7,165.2 535.2,155.5 535.7,150.5 536.2,154.4 536.7,165.6 537.2,156.1 537.7,154.5 538.2,156.9 538.7,165.6 539.2,158.0 539.7,166.6 540.2,171.7 540.7,167.1 541.2,156.6 541.7,133.9 542.2,153.2 542.7,167.2 543.2,158.2 543.7,167.1 544.2,158.2 544.7,167.7 545.2,149.8 545.7,168.8 546.2,158.4 546.7,168.2 547.2,171.0 547.7,169.8 548.2,157.6 548.7,165.8 549.2,151.8 549.7,166.5 550.2,157.4 550.7,166.8 551.2,150.7 551.7,165.6 552.2,156.9 552.7,166.7 553.2,152.8 553.7,164.5 554.2,156.2 554.7,167.3 555.2,152.5 555.7,164.6 556.2,156.2 556.7,166.9 557.2,155.9 557.7,164.9 558.2,143.9 558.7,166.9 559.2,155.7 559.7,168.6 560.2,155.1 560.7,143.2 561.2,156.9 561.7,167.3 562.2,156.4 562.7,166.1 563.2,157.9 563.7,166.6 564.2,158.0 564.7,147.2 565.2,158.7 565.7,166.2 566.2,155.4 566.7,167.0 567.2,157.2 567.7,170.1 568.2,157.7 568.7,168.3 569.2,153.8 569.7,167.9 570.2,157.6 570.7,166.9 571.2,155.4 571.7,175.7 572.2,153.7 572.7,166.1 573.2,156.1 573.7,164.9 574.2,155.4 574.7,164.9 575.2,146.5 575.7,165.0 576.2,153.2 576.7,164.5 577.2,156.4 577.7,138.8 578.2,150.1 578.7,164.8 579.2,143.9 579.7,164.5 580.2,153.0 580.7,165.4 581.2,154.9 581.7,166.4 582.2,157.3 582.7,167.5 583.2,154.4 583.7,168.2 584.2,158.2 584.7,166.1 585.2,158.2 585.7,166.4 586.2,159.2 586.7,140.5 587.2,156.1 587.7,166.6 588.2,150.5 588.7,165.7 589.2,157.5 589.7,166.2 590.2,153.8 590.7,165.6 591.2,141.2 591.7,165.5 592.2,156.6 592.7,167.4 593.2,143.2 593.7,172.3 594.2,155.2 594.7,168.4 595.2,151.8 595.7,166.1 596.2,157.0 596.7,167.6 597.2,157.8 597.7,167.6 598.2,156.9 598.7,173.0 599.2,158.5 599.7,170.9 600.2,155.9 600.7,168.8 601.2,157.9 601.7,143.2 602.2,159.4 602.7,169.7 603.2,157.7 603.7,148.5 604.2,157.0 604.7,168.4 605.2,160.9 605.7,168.5 606.2,161.0 606.7,168.3 607.2,160.5 607.7,154.5 608.2,159.8 608.7,167.5 609.2,152.4 609.7,168.5 610.2,152.3 610.7,166.4 611.2,145.8 611.7,170.5 612.2,159.2 612.7,168.5 613.2,137.2 613.7,174.3 614.2,156.7 614.7,168.7 615.2,158.9 615.7,149.8 616.2,158.6 616.7,167.9 617.2,151.9 617.7,166.5 618.2,150.4 618.7,162.9 619.2,135.9 619.7,163.6 620.2,156.4 620.7,167.8" fill="none" stroke="#0aabc0" stroke-width="2.0" stroke-opacity="0.2" stroke-linejoin="bevel" stroke-miterlimit="2.2" stroke-linecap="butt"/><polyline points="454.2,127.0 454.6,130.0 455.1,132.8 455.5,133.8 456.0,134.9 456.4,133.5 456.9,133.8 457.3,135.4 457.8,136.1 458.2,136.5 458.7,138.4 459.1,138.4 459.6,140.1 460.0,139.1 460.5,139.8 460.9,141.9 461.4,141.1 461.8,140.9 462.3,142.3 462.7,142.0 463.2,141.0 463.6,142.4 464.1,143.4 464.5,143.1 465.0,144.8 465.4,144.1 465.9,145.0 466.3,144.9 466.8,145.6 467.2,148.0 467.7,147.7 468.1,149.0 468.6,147.2 469.0,147.0 469.5,146.9 469.9,145.8 470.4,143.9 470.8,144.2 471.3,144.8 471.7,144.6 472.2,145.1 472.6,147.3 473.1,147.0 473.5,146.8 474.0,147.8 474.4,147.8 474.9,149.5 475.3,149.5 475.8,149.3 476.2,150.7 476.7,148.9 477.1,148.9 477.6,148.1 478.0,149.3 478.5,148.2 478.9,149.1 479.4,148.4 479.8,149.4 480.3,150.9 480.7,151.7 481.2,152.7 481.6,153.7 482.1,153.0 482.5,152.6 483.0,151.0 483.4,151.2 483.9,150.7 484.3,151.7 484.8,151.7 485.2,150.1 485.7,150.8 486.1,152.4 486.6,152.8 487.0,152.5 487.5,154.1 487.9,154.9 488.4,154.4 488.8,154.7 489.3,155.4 489.7,156.4 490.2,155.7 490.6,156.1 491.1,156.3 491.5,157.4 492.0,157.4 492.4,157.2 492.9,157.6 493.3,157.3 493.8,157.9 494.2,159.2 494.7,158.7 495.1,158.4 495.6,159.5 496.0,158.7 496.5,158.6 496.9,158.4 497.4,158.7 497.8,158.9 498.3,159.0 498.7,160.1 499.2,159.3 499.6,159.3 500.1,160.0 500.5,160.5 501.0,159.6 501.4,160.4 501.9,159.8 502.3,160.2 502.8,160.3 503.2,160.9 503.7,160.6 504.1,160.3 504.6,160.9 505.0,160.2 505.5,160.3 505.9,161.2 506.4,160.7 506.8,161.1 507.3,160.5 507.7,161.4 508.2,161.0 508.6,160.5 509.1,161.6 509.5,161.0 510.0,160.8 510.4,160.7 510.9,160.4 511.3,160.5 511.8,161.0 512.2,160.2 512.7,160.2 513.1,160.4 513.6,160.4 514.0,160.1 514.5,160.6 514.9,159.7 515.4,159.7 515.8,159.7 516.3,159.1 516.7,159.2 517.2,158.9 517.6,159.6 518.1,158.7 518.5,159.4 519.0,158.8 519.4,159.4 519.9,159.5 520.3,159.1 520.8,159.9 521.2,159.6 521.7,159.5 522.1,158.9 522.6,159.4 523.0,159.3 523.5,159.6 523.9,160.2 524.4,160.1 524.8,159.1 525.3,159.9 525.7,160.3 526.2,159.8 526.6,159.2 527.1,160.3 527.6,159.7 528.0,160.4 528.5,160.2 528.9,160.1 529.4,160.1 529.8,159.0 530.3,159.9 530.7,159.2 531.2,158.9 531.6,159.2 532.1,159.4 532.5,158.7 533.0,159.2 533.4,159.6 533.9,159.2 534.3,159.2 534.8,158.9 535.2,159.8 535.7,158.8 536.1,159.4 536.6,159.3 537.0,158.6 537.5,160.0 537.9,159.3 538.4,160.4 538.8,160.5 539.3,160.7 539.7,160.8 540.2,160.4 540.6,160.7 541.1,160.8 541.5,161.7 542.0,160.8 542.4,161.1 542.9,162.2 543.3,162.0 543.8,161.7 544.2,162.0 544.7,161.3 545.1,161.6 545.6,161.0 546.0,161.5 546.5,160.4 546.9,160.7 547.4,160.8 547.8,161.0 548.3,160.4 548.7,160.6 549.2,160.8 549.6,160.0 550.1,159.5 550.5,159.2 551.0,160.0 551.4,159.4 551.9,159.1 552.3,159.2 552.8,158.6 553.2,158.6 553.7,158.5 554.1,158.4 554.6,159.0 555.0,158.2 555.5,157.9 555.9,159.0 556.4,158.7 556.8,158.2 557.3,159.1 557.7,159.2 558.2,159.3 558.6,159.5 559.1,159.2 559.5,159.1 560.0,159.7 560.4,159.7 560.9,159.8 561.3,159.3 561.8,159.6 562.2,160.1 562.7,159.8 563.1,160.2 563.6,160.2 564.0,160.6 564.5,160.3 564.9,160.6 565.4,161.1 565.8,160.6 566.3,160.5 566.7,161.1 567.2,160.6 567.6,161.4 568.1,160.5 568.5,161.0 569.0,160.4 569.4,159.7 569.9,159.9 570.3,159.9 570.8,159.5 571.2,159.5 571.7,159.0 572.1,159.6 572.6,158.5 573.0,159.1 573.5,158.0 573.9,158.4 574.4,158.0 574.8,158.1 575.3,158.7 575.7,159.1 576.2,158.5 576.6,158.7 577.1,158.8 577.5,159.0 578.0,158.8 578.4,158.9 578.9,159.6 579.3,159.3 579.8,159.2 580.2,159.8 580.7,160.1 581.1,159.6 581.6,159.2 582.0,159.6 582.5,160.4 582.9,159.8 583.4,159.9 583.8,160.8 584.3,160.1 584.7,161.1 585.2,160.5 585.6,160.9 586.1,161.2 586.5,160.5 587.0,161.1 587.4,160.6 587.9,160.8 588.3,160.7 588.8,159.8 589.2,160.5 589.7,160.5 590.1,159.7 590.6,160.0 591.0,159.5 591.5,159.9 591.9,160.3 592.4,160.0 592.8,160.3 593.3,160.0 593.7,160.9 594.2,160.8 594.6,161.1 595.1,160.3 595.5,161.2 596.0,160.5 596.4,161.1 596.9,160.9 597.3,161.7 597.8,161.0 598.2,161.5 598.7,161.6 599.1,161.6 599.6,161.4 600.0,162.1 600.5,162.6 600.9,162.0 601.4,162.7 601.8,162.2 602.3,162.2 602.7,162.5 603.2,163.2 603.6,163.0 604.1,163.0 604.5,162.4 605.0,162.9 605.4,162.4 605.9,162.5 606.3,162.9 606.8,162.8 607.2,162.5 607.7,162.5 608.1,162.3 608.6,162.1 609.0,161.9 609.5,161.2 609.9,160.8 610.4,161.7 610.8,161.2 611.3,161.2 611.7,161.8 612.2,161.6 612.6,162.1 613.1,161.8 613.5,162.1 614.0,161.3 614.4,162.2 614.9,161.7 615.3,161.8 615.8,161.1 616.2,160.8 616.7,160.6 617.1,160.2 617.6,160.8 618.0,159.6 618.5,158.1 618.9,154.8 619.4,151.5 619.8,155.8 620.3,159.0 620.7,160.3 621.0,160.8" fill="none" stroke="#0aabc0" stroke-width="2.05" stroke-opacity="1.0" stroke-linejoin="miter" stroke-miterlimit="2.2" stroke-linecap="butt"/><circle cx="620.6" cy="168.0" r="4" fill="#a53fba"/><circle cx="620.6" cy="161.3" r="4" fill="#0aabc0"/>
<polyline points="103.9,361.2 104.4,380.5 104.9,365.5 105.4,378.8 105.9,367.7 106.4,295.8 106.9,369.9 107.4,345.0 107.9,372.0 108.4,383.5 108.9,387.0 109.4,388.0 109.9,381.5 110.4,398.0 110.9,385.8 111.4,397.7 111.9,379.6 112.4,399.0 112.9,404.0 113.4,396.6 113.9,389.4 114.4,400.2 114.9,391.3 115.4,409.0 115.9,392.8 116.4,400.1 116.9,393.3 117.4,402.0 117.9,394.8 118.4,367.6 118.9,412.5 119.4,405.8 119.9,396.2 120.4,405.3 120.9,397.7 121.4,406.8 121.9,392.3 122.4,409.8 122.9,397.1 123.4,405.6 123.9,413.0 124.4,406.2 124.9,400.7 125.4,408.4 125.9,398.4 126.4,410.6 126.9,400.8 127.4,409.9 127.9,396.0 128.4,407.5 128.9,402.1 129.4,407.9 129.9,396.0 130.4,413.4 130.9,402.6 131.4,410.1 131.9,415.0 132.4,412.0 132.9,403.7 133.4,411.9 133.9,403.9 134.4,411.5 134.9,401.0 135.4,412.8 135.9,403.0 136.4,409.3 136.9,405.0 137.4,410.9 137.9,402.6 138.4,411.4 138.9,404.7 139.4,412.9 139.9,417.0 140.4,410.5 140.9,404.0 141.4,411.3 141.9,405.4 142.4,411.1 142.9,404.7 143.4,410.1 143.9,399.6 144.4,410.1 144.9,401.8 145.4,411.5 145.9,405.4 146.4,413.4 146.9,404.5 147.4,412.9 147.9,416.0 148.4,411.9 148.9,405.9 149.4,410.7 149.9,404.0 150.4,411.4 150.9,406.4 151.4,412.1 151.9,406.3 152.4,411.6 152.9,404.6 153.4,410.7 153.9,405.0 154.4,414.1 154.9,404.8 155.4,411.3 155.9,404.5 156.4,410.7 156.9,417.0 157.4,411.0 157.9,402.6 158.4,411.0 158.9,406.2 159.4,412.0 159.9,404.8 160.4,390.5 160.9,402.6 161.4,411.7 161.9,404.2 162.4,413.0 162.9,407.5 163.4,412.8 163.9,407.8 164.4,413.1 164.9,406.2 165.4,412.3 165.9,407.8 166.4,413.3 166.9,408.0 167.4,414.6 167.9,416.0 168.4,412.9 168.9,408.7 169.4,413.6 169.9,408.0 170.4,414.5 170.9,408.8 171.4,415.0 171.9,405.7 172.4,413.2 172.9,408.9 173.4,413.4 173.9,408.4 174.4,414.0 174.9,418.0 175.4,413.2 175.9,407.8 176.4,413.8 176.9,405.8 177.4,413.8 177.9,404.4 178.4,414.0 178.9,407.6 179.4,414.7 179.9,402.0 180.4,412.8 180.9,405.5 181.4,412.6 181.9,407.1 182.4,412.8 182.9,407.5 183.4,412.7 183.9,408.2 184.4,413.0 184.9,404.8 185.4,415.4 185.9,409.3 186.4,415.8 186.9,406.4 187.4,414.1 187.9,407.9 188.4,414.2 188.9,406.5 189.4,416.4 189.9,409.4 190.4,415.0 190.9,398.1 191.4,417.0 191.9,409.4 192.4,414.5 192.9,408.9 193.4,416.9 193.9,408.7 194.4,415.2 194.9,408.7 195.4,415.0 195.9,419.3 196.4,416.9 196.9,407.1 197.4,417.3 197.9,408.3 198.4,415.7 198.9,408.9 199.4,415.4 199.9,409.3 200.4,413.8 200.9,407.9 201.4,413.8 201.9,409.5 202.4,414.5 202.9,409.0 203.4,413.8 203.9,407.5 204.4,414.8 204.9,405.5 205.4,412.4 205.9,408.5 206.4,413.9 206.9,407.5 207.4,412.6 207.9,408.7 208.4,414.3 208.9,407.7 209.4,415.8 209.9,408.4 210.4,413.8 210.9,407.7 211.4,413.5 211.9,416.0 212.4,415.2 212.9,405.7 213.4,413.7 213.9,388.2 214.4,414.0 214.9,408.4 215.4,413.8 215.9,408.7 216.4,415.6 216.9,406.6 217.4,412.7 217.9,407.6 218.4,414.0 218.9,409.1 219.4,413.3 219.9,408.6 220.4,422.0 220.9,408.7 221.4,414.0 221.9,408.1 222.4,414.3 222.9,400.1 223.4,413.0 223.9,405.2 224.4,413.4 224.9,409.3 225.4,412.9 225.9,406.5 226.4,415.1 226.9,408.0 227.4,413.2 227.9,408.7 228.4,412.7 228.9,409.1 229.4,413.1 229.9,408.6 230.4,415.9 230.9,409.1 231.4,413.4 231.9,409.4 232.4,395.5 232.9,408.9 233.4,413.9 233.9,408.5 234.4,415.0 234.9,405.8 235.4,415.9 235.9,408.6 236.4,418.0 236.9,410.0 237.4,418.0 237.9,410.3 238.4,416.4 238.9,410.2 239.4,414.4 239.9,410.2 240.4,415.5 240.9,409.8 241.4,416.4 241.9,409.7 242.4,414.6 242.9,409.1 243.4,416.3 243.9,408.3 244.4,418.1 244.9,409.8 245.4,416.8 245.9,411.2 246.4,422.0 246.9,403.0 247.4,415.4 247.9,410.7 248.4,417.7 248.9,409.1 249.4,415.9 249.9,407.2 250.4,416.6 250.9,410.5 251.4,414.7 251.9,408.9 252.4,414.9 252.9,408.7 253.4,415.8 253.9,409.8 254.4,417.0 254.9,405.7 255.4,415.8 255.9,408.6 256.4,413.3 256.9,406.4 257.4,414.3 257.9,407.0 258.4,413.4 258.9,408.8 259.4,413.6 259.9,417.0 260.4,413.3 260.9,409.7 261.4,415.0 261.9,407.6 262.4,415.9 262.9,392.8 263.4,414.5 263.9,409.5 264.4,413.7 264.9,417.3 265.4,414.4 265.9,409.3 266.4,414.3 266.9,409.0 267.4,417.2 267.9,407.1 268.4,418.0 268.9,411.1 269.4,415.0 269.9,411.2 270.4,416.2 270.9,409.7 271.4,415.0 271.9,410.0 272.4,417.8 272.9,410.2 273.4,415.1 273.9,410.7 274.4,416.8 274.9,408.0 275.4,416.5 275.9,410.6 276.4,416.7 276.9,409.9 277.4,417.7 277.9,409.9 278.4,415.1 278.9,410.2 279.4,416.5 279.9,420.7 280.4,418.3 280.9,410.4" fill="none" stroke="#a53fba" stroke-width="2.0" stroke-opacity="0.2" stroke-linejoin="bevel" stroke-miterlimit="2.2" stroke-linecap="butt"/><polyline points="103.9,289.4 104.4,330.8 104.9,340.0 105.4,347.7 105.9,351.9 106.4,356.2 106.9,360.8 107.4,365.6 107.9,368.4 108.4,369.8 108.9,371.2 109.4,372.3 109.9,372.7 110.4,374.3 110.9,376.0 111.4,378.1 111.9,379.7 112.4,380.7 112.9,383.1 113.4,385.1 113.9,388.5 114.4,389.5 114.9,390.3 115.4,391.2 115.9,391.6 116.4,392.4 116.9,392.7 117.4,392.8 117.9,394.8 118.4,395.3 118.9,396.4 119.4,396.9 119.9,397.4 120.4,398.1 120.9,398.6 121.4,398.8 121.9,398.9 122.4,400.4 122.9,400.7 123.4,401.4 123.9,401.2 124.4,401.4 124.9,402.0 125.4,401.4 125.9,402.6 126.4,402.5 126.9,402.3 127.4,402.6 127.9,403.3 128.4,403.2 128.9,403.7 129.4,404.2 129.9,404.1 130.4,403.9 130.9,404.6 131.4,404.4 131.9,404.8 132.4,405.1 132.9,405.7 133.4,405.6 133.9,406.3 134.4,406.5 134.9,405.6 135.4,405.8 135.9,405.7 136.4,404.1 136.9,405.0 137.4,407.1 137.9,407.3 138.4,407.2 138.9,406.7 139.4,407.2 139.9,408.0 140.4,408.0 140.9,407.8 141.4,407.0 141.9,407.8 142.4,406.9 142.9,407.1 143.4,406.1 143.9,407.1 144.4,406.8 144.9,407.2 145.4,406.7 145.9,407.5 146.4,407.6 146.9,407.8 147.4,407.6 147.9,408.1 148.4,407.6 148.9,407.6 149.4,407.4 149.9,408.1 150.4,407.4 150.9,407.6 151.4,407.4 151.9,408.1 152.4,407.8 152.9,407.6 153.4,406.7 153.9,407.1 154.4,407.0 154.9,406.7 155.4,406.6 155.9,407.9 156.4,406.8 156.9,407.1 157.4,407.2 157.9,407.8 158.4,407.3 158.9,407.9 159.4,407.9 159.9,408.7 160.4,407.8 160.9,408.3 161.4,408.7 161.9,409.4 162.4,409.0 162.9,409.0 163.4,409.4 163.9,409.0 164.4,408.7 164.9,409.4 165.4,410.0 165.9,409.9 166.4,409.4 166.9,410.1 167.4,410.4 167.9,409.8 168.4,410.4 168.9,410.2 169.4,410.2 169.9,410.3 170.4,410.2 170.9,410.4 171.4,410.1 171.9,410.5 172.4,410.2 172.9,411.0 173.4,410.8 173.9,410.0 174.4,410.9 174.9,410.1 175.4,410.4 175.9,410.4 176.4,410.1 176.9,410.0 177.4,410.1 177.9,409.7 178.4,410.6 178.9,409.7 179.4,410.5 179.9,409.8 180.4,409.9 180.9,410.0 181.4,409.6 181.9,409.7 182.4,410.0 182.9,410.1 183.4,410.7 183.9,411.0 184.4,409.9 184.9,410.6 185.4,410.2 185.9,411.1 186.4,410.6 186.9,411.3 187.4,411.0 187.9,410.6 188.4,410.5 188.9,410.8 189.4,411.6 189.9,410.8 190.4,411.3 190.9,411.2 191.4,411.2 191.9,411.7 192.4,411.0 192.9,411.6 193.4,411.5 193.9,411.8 194.4,411.3 194.9,411.7 195.4,411.1 195.9,411.3 196.4,411.4 196.9,411.7 197.4,411.8 197.9,410.9 198.4,410.9 198.9,411.4 199.4,411.8 199.9,411.3 200.4,410.9 200.9,411.6 201.4,410.7 201.9,410.3 202.4,410.2 202.9,410.0 203.4,410.7 203.9,409.9 204.4,410.4 204.9,410.5 205.4,410.7 205.9,410.5 206.4,410.1 206.9,410.4 207.4,410.6 207.9,410.5 208.4,410.1 208.9,410.6 209.4,409.9 209.9,410.2 210.4,410.9 210.9,410.3 211.4,410.1 211.9,410.6 212.4,410.2 212.9,409.7 213.4,409.7 213.9,409.9 214.4,410.0 214.9,410.6 215.4,409.8 215.9,410.6 216.4,410.6 216.9,410.2 217.4,410.9 217.9,410.7 218.4,410.5 218.9,410.3 219.4,410.6 219.9,411.1 220.4,410.7 220.9,410.3 221.4,410.5 221.9,410.6 222.4,410.3 222.9,410.8 223.4,410.2 223.9,411.0 224.4,410.2 224.9,410.1 225.4,410.6 225.9,410.2 226.4,410.8 226.9,410.3 227.4,410.4 227.9,410.8 228.4,410.1 228.9,410.8 229.4,410.7 229.9,410.5 230.4,411.1 230.9,410.1 231.4,411.1 231.9,410.4 232.4,411.2 232.9,410.5 233.4,410.5 233.9,411.0 234.4,411.6 234.9,410.9 235.4,411.2 235.9,411.4 236.4,411.1 236.9,411.5 237.4,411.0 237.9,411.5 238.4,411.9 238.9,411.5 239.4,411.4 239.9,411.3 240.4,412.1 240.9,411.9 241.4,412.5 241.9,412.4 242.4,411.8 242.9,412.8 243.4,412.9 243.9,412.9 244.4,413.0 244.9,412.9 245.4,412.9 245.9,412.8 246.4,412.7 246.9,412.3 247.4,412.1 247.9,412.8 248.4,412.5 248.9,411.9 249.4,412.4 249.9,412.3 250.4,412.1 250.9,412.4 251.4,412.4 251.9,411.7 252.4,412.1 252.9,411.6 253.4,411.5 253.9,411.2 254.4,411.7 254.9,411.0 255.4,411.5 255.9,410.7 256.4,410.9 256.9,411.2 257.4,410.9 257.9,410.6 258.4,410.3 258.9,410.8 259.4,410.7 259.9,411.2 260.4,411.2 260.9,411.4 261.4,410.9 261.9,410.9 262.4,411.1 262.9,411.4 263.4,410.7 263.9,410.9 264.4,410.9 264.9,411.1 265.4,411.1 265.9,412.0 266.4,411.3 266.9,412.2 267.4,411.7 267.9,411.8 268.4,412.8 268.9,412.0 269.4,412.1 269.9,412.3 270.4,412.2 270.9,412.5 271.4,412.3 271.9,412.2 272.4,412.0 272.9,412.7 273.4,411.9 273.9,412.1 274.4,412.4 274.9,412.6 275.4,412.3 275.9,412.3 276.4,412.2 276.9,412.4 277.4,412.5 277.9,411.8 278.4,411.8 278.9,412.5 279.4,412.4 279.9,412.5 280.4,412.8 280.9,412.2 281.0,412.6" fill="none" stroke="#a53fba" stroke-width="1.9" stroke-opacity="1.0" stroke-linejoin="miter" stroke-miterlimit="2.2" stroke-linecap="butt"/><polyline points="114.2,364.9 114.7,338.2 115.2,373.0 115.7,394.0 116.2,375.1 116.7,361.5 117.2,368.3 117.7,392.9 118.2,372.9 118.7,396.7 119.2,375.4 119.7,373.0 120.2,381.0 120.7,397.4 121.2,372.7 121.7,396.8 122.2,346.5 122.7,396.7 123.2,405.0 123.7,397.9 124.2,383.3 124.7,371.0 125.2,386.4 125.7,402.6 126.2,387.2 126.7,372.6 127.2,411.0 127.7,403.5 128.2,377.6 128.7,402.2 129.2,349.0 129.7,399.8 130.2,413.0 130.7,399.1 131.2,385.8 131.7,402.2 132.2,370.4 132.7,401.4 133.2,383.2 133.7,401.1 134.2,376.0 134.7,404.9 135.2,389.2 135.7,404.6 136.2,353.7 136.7,406.8 137.2,380.8 137.7,402.3 138.2,380.6 138.7,402.8 139.2,360.3 139.7,403.8 140.2,388.8 140.7,404.5 141.2,356.5 141.7,407.0 142.2,393.9 142.7,409.0 143.2,415.0 143.7,403.6 144.2,393.4 144.7,404.1 145.2,387.1 145.7,405.7 146.2,393.9 146.7,406.9 147.2,416.0 147.7,406.8 148.2,386.6 148.7,408.0 149.2,394.3 149.7,407.8 150.2,398.5 150.7,408.5 151.2,396.6 151.7,388.8 152.2,400.0 152.7,410.8 153.2,417.0 153.7,410.0 154.2,386.9 154.7,412.6 155.2,392.6 155.7,410.9 156.2,401.2 156.7,412.3 157.2,401.3 157.7,394.0 158.2,398.4 158.7,411.0 159.2,418.0 159.7,411.1 160.2,398.6 160.7,411.9 161.2,402.7 161.7,412.5 162.2,402.8 162.7,415.8 163.2,419.0 163.7,415.5 164.2,401.3 164.7,413.3 165.2,399.2 165.7,411.8 166.2,398.8 166.7,412.6 167.2,392.6 167.7,423.3 168.2,402.1 168.7,412.9 169.2,396.3 169.7,413.0 170.2,398.2 170.7,412.7 171.2,420.5 171.7,413.0 172.2,402.8 172.7,413.7 173.2,400.4 173.7,411.9 174.2,400.1 174.7,392.2 175.2,402.2 175.7,412.1 176.2,399.8 176.7,410.6 177.2,393.5 177.7,410.9 178.2,400.8 178.7,390.2 179.2,394.3 179.7,412.0 180.2,418.0 180.7,413.1 181.2,394.6 181.7,413.2 182.2,388.2 182.7,412.4 183.2,397.0 183.7,382.9 184.2,398.9 184.7,411.8 185.2,401.6 185.7,411.1 186.2,399.6 186.7,410.6 187.2,399.9 187.7,396.1 188.2,397.2 188.7,411.3 189.2,396.9 189.7,413.9 190.2,400.7 190.7,410.3 191.2,402.2 191.7,411.5 192.2,401.3 192.7,370.3 193.2,399.6 193.7,413.7 194.2,400.4 194.7,410.2 195.2,400.5 195.7,395.5 196.2,399.4 196.7,410.6 197.2,401.1 197.7,399.5 198.2,401.9 198.7,410.6 199.2,403.0 199.7,411.6 200.2,416.7 200.7,412.1 201.2,401.6 201.7,378.9 202.2,398.2 202.7,412.2 203.2,403.2 203.7,412.1 204.2,403.2 204.7,412.7 205.2,394.8 205.7,413.8 206.2,403.4 206.7,413.2 207.2,416.0 207.7,414.8 208.2,402.6 208.7,410.8 209.2,396.8 209.7,411.5 210.2,402.4 210.7,411.8 211.2,395.7 211.7,410.6 212.2,401.9 212.7,411.7 213.2,397.8 213.7,409.5 214.2,401.2 214.7,412.3 215.2,397.5 215.7,409.6 216.2,401.2 216.7,411.9 217.2,400.9 217.7,409.9 218.2,388.9 218.7,411.9 219.2,400.7 219.7,413.6 220.2,400.1 220.7,388.2 221.2,401.9 221.7,412.3 222.2,401.4 222.7,411.1 223.2,402.9 223.7,411.6 224.2,403.0 224.7,392.2 225.2,403.7 225.7,411.2 226.2,400.4 226.7,412.0 227.2,402.2 227.7,415.1 228.2,402.7 228.7,413.3 229.2,398.8 229.7,412.9 230.2,402.6 230.7,411.9 231.2,400.4 231.7,420.7 232.2,398.7 232.7,411.1 233.2,401.1 233.7,409.9 234.2,400.4 234.7,409.9 235.2,391.5 235.7,410.0 236.2,398.2 236.7,409.5 237.2,401.4 237.7,383.8 238.2,395.1 238.7,409.8 239.2,388.9 239.7,409.5 240.2,398.0 240.7,410.4 241.2,399.9 241.7,411.4 242.2,402.3 242.7,412.5 243.2,399.4 243.7,413.2 244.2,403.2 244.7,411.1 245.2,403.2 245.7,411.4 246.2,404.2 246.7,385.5 247.2,401.1 247.7,411.6 248.2,395.5 248.7,410.7 249.2,402.5 249.7,411.2 250.2,398.8 250.7,410.6 251.2,386.2 251.7,410.5 252.2,401.6 252.7,412.4 253.2,388.2 253.7,417.3 254.2,400.2 254.7,413.4 255.2,396.8 255.7,411.1 256.2,402.0 256.7,412.6 257.2,402.8 257.7,412.6 258.2,401.9 258.7,418.0 259.2,403.5 259.7,415.9 260.2,400.9 260.7,413.8 261.2,402.9 261.7,388.2 262.2,404.4 262.7,414.7 263.2,402.7 263.7,393.5 264.2,402.0 264.7,413.4 265.2,405.9 265.7,413.5 266.2,406.0 266.7,413.3 267.2,405.5 267.7,399.5 268.2,404.8 268.7,412.5 269.2,397.4 269.7,413.5 270.2,397.3 270.7,411.4 271.2,390.8 271.7,415.5 272.2,404.2 272.7,413.5 273.2,382.2 273.7,419.3 274.2,401.7 274.7,413.7 275.2,403.9 275.7,394.8 276.2,403.6 276.7,412.9 277.2,396.9 277.7,411.5 278.2,395.4 278.7,407.9 279.2,380.9 279.7,408.6 280.2,401.4 280.7,412.8" fill="none" stroke="#0aabc0" stroke-width="2.0" stroke-opacity="0.2" stroke-linejoin="bevel" stroke-miterlimit="2.2" stroke-linecap="butt"/><polyline points="114.2,372.0 114.6,375.0 115.1,377.8 115.5,378.8 116.0,379.9 116.4,378.5 116.9,378.8 117.3,380.4 117.8,381.1 118.2,381.5 118.7,383.4 119.1,383.4 119.6,385.1 120.0,384.1 120.5,384.8 120.9,386.9 121.4,386.1 121.8,385.9 122.3,387.3 122.7,387.0 123.2,386.0 123.6,387.4 124.1,388.4 124.5,388.1 125.0,389.8 125.4,389.1 125.9,390.0 126.3,389.9 126.8,390.6 127.2,393.0 127.7,392.7 128.1,394.0 128.6,392.2 129.0,392.0 129.5,391.9 129.9,390.8 130.4,388.9 130.8,389.2 131.3,389.8 131.7,389.6 132.2,390.1 132.6,392.3 133.1,392.0 133.5,391.8 134.0,392.8 134.4,392.8 134.9,394.5 135.3,394.5 135.8,394.3 136.2,395.7 136.7,393.9 137.1,393.9 137.6,393.1 138.0,394.3 138.5,393.2 138.9,394.1 139.4,393.4 139.8,394.4 140.3,395.9 140.7,396.7 141.2,397.7 141.6,398.7 142.1,398.0 142.5,397.6 143.0,396.0 143.4,396.2 143.9,395.7 144.3,396.7 144.8,396.7 145.2,395.1 145.7,395.8 146.1,397.4 146.6,397.8 147.0,397.5 147.5,399.1 147.9,399.9 148.4,399.4 148.8,399.7 149.3,400.4 149.7,401.4 150.2,400.7 150.6,401.1 151.1,401.3 151.5,402.4 152.0,402.4 152.4,402.2 152.9,402.6 153.3,402.3 153.8,402.9 154.2,404.2 154.7,403.7 155.1,403.4 155.6,404.5 156.0,403.7 156.5,403.6 156.9,403.4 157.4,403.7 157.8,403.9 158.3,404.0 158.7,405.1 159.2,404.3 159.6,404.3 160.1,405.0 160.5,405.5 161.0,404.6 161.4,405.4 161.9,404.8 162.3,405.2 162.8,405.3 163.2,405.9 163.7,405.6 164.1,405.3 164.6,405.9 165.0,405.2 165.5,405.3 165.9,406.2 166.4,405.7 166.8,406.1 167.3,405.5 167.7,406.4 168.2,406.0 168.6,405.5 169.1,406.6 169.5,406.0 170.0,405.8 170.4,405.7 170.9,405.4 171.3,405.5 171.8,406.0 172.2,405.2 172.7,405.2 173.1,405.4 173.6,405.4 174.0,405.1 174.5,405.6 174.9,404.7 175.4,404.7 175.8,404.7 176.3,404.1 176.7,404.2 177.2,403.9 177.6,404.6 178.1,403.7 178.5,404.4 179.0,403.8 179.4,404.4 179.9,404.5 180.3,404.1 180.8,404.9 181.2,404.6 181.7,404.5 182.1,403.9 182.6,404.4 183.0,404.3 183.5,404.6 183.9,405.2 184.4,405.1 184.8,404.1 185.3,404.9 185.7,405.3 186.2,404.8 186.6,404.2 187.1,405.3 187.6,404.7 188.0,405.4 188.5,405.2 188.9,405.1 189.4,405.1 189.8,404.0 190.3,404.9 190.7,404.2 191.2,403.9 191.6,404.2 192.1,404.4 192.5,403.7 193.0,404.2 193.4,404.6 193.9,404.2 194.3,404.2 194.8,403.9 195.2,404.8 195.7,403.8 196.1,404.4 196.6,404.3 197.0,403.6 197.5,405.0 197.9,404.3 198.4,405.4 198.8,405.5 199.3,405.7 199.7,405.8 200.2,405.4 200.6,405.7 201.1,405.8 201.5,406.7 202.0,405.8 202.4,406.1 202.9,407.2 203.3,407.0 203.8,406.7 204.2,407.0 204.7,406.3 205.1,406.6 205.6,406.0 206.0,406.5 206.5,405.4 206.9,405.7 207.4,405.8 207.8,406.0 208.3,405.4 208.7,405.6 209.2,405.8 209.6,405.0 210.1,404.5 210.5,404.2 211.0,405.0 211.4,404.4 211.9,404.1 212.3,404.2 212.8,403.6 213.2,403.6 213.7,403.5 214.1,403.4 214.6,404.0 215.0,403.2 215.5,402.9 215.9,404.0 216.4,403.7 216.8,403.2 217.3,404.1 217.7,404.2 218.2,404.3 218.6,404.5 219.1,404.2 219.5,404.1 220.0,404.7 220.4,404.7 220.9,404.8 221.3,404.3 221.8,404.6 222.2,405.1 222.7,404.8 223.1,405.2 223.6,405.2 224.0,405.6 224.5,405.3 224.9,405.6 225.4,406.1 225.8,405.6 226.3,405.5 226.7,406.1 227.2,405.6 227.6,406.4 228.1,405.5 228.5,406.0 229.0,405.4 229.4,404.7 229.9,404.9 230.3,404.9 230.8,404.5 231.2,404.5 231.7,404.0 232.1,404.6 232.6,403.5 233.0,404.1 233.5,403.0 233.9,403.4 234.4,403.0 234.8,403.1 235.3,403.7 235.7,404.1 236.2,403.5 236.6,403.7 237.1,403.8 237.5,404.0 238.0,403.8 238.4,403.9 238.9,404.6 239.3,404.3 239.8,404.2 240.2,404.8 240.7,405.1 241.1,404.6 241.6,404.2 242.0,404.6 242.5,405.4 242.9,404.8 243.4,404.9 243.8,405.8 244.3,405.1 244.7,406.1 245.2,405.5 245.6,405.9 246.1,406.2 246.5,405.5 247.0,406.1 247.4,405.6 247.9,405.8 248.3,405.7 248.8,404.8 249.2,405.5 249.7,405.5 250.1,404.7 250.6,405.0 251.0,404.5 251.5,404.9 251.9,405.3 252.4,405.0 252.8,405.3 253.3,405.0 253.7,405.9 254.2,405.8 254.6,406.1 255.1,405.3 255.5,406.2 256.0,405.5 256.4,406.1 256.9,405.9 257.3,406.7 257.8,406.0 258.2,406.5 258.7,406.6 259.1,406.6 259.6,406.4 260.0,407.1 260.5,407.6 260.9,407.0 261.4,407.7 261.8,407.2 262.3,407.2 262.7,407.5 263.2,408.2 263.6,408.0 264.1,408.0 264.5,407.4 265.0,407.9 265.4,407.4 265.9,407.5 266.3,407.9 266.8,407.8 267.2,407.5 267.7,407.5 268.1,407.3 268.6,407.1 269.0,406.9 269.5,406.2 269.9,405.8 270.4,406.7 270.8,406.2 271.3,406.2 271.7,406.8 272.2,406.6 272.6,407.1 273.1,406.8 273.5,407.1 274.0,406.3 274.4,407.2 274.9,406.7 275.3,406.8 275.8,406.1 276.2,405.8 276.7,405.6 277.1,405.2 277.6,405.8 278.0,404.6 278.5,403.1 278.9,399.8 279.4,396.5 279.8,400.8 280.3,404.0 280.7,405.3 281.0,405.8" fill="none" stroke="#0aabc0" stroke-width="2.05" stroke-opacity="1.0" stroke-linejoin="miter" stroke-miterlimit="2.2" stroke-linecap="butt"/><circle cx="280.6" cy="413.0" r="4" fill="#a53fba"/><circle cx="280.6" cy="406.3" r="4" fill="#0aabc0"/>
<g font-family="'Liberation Sans', sans-serif" font-size="10.9" fill="#32313f" transform="scale(1.092,1)"><text x="78.94" y="69.3" text-anchor="end">0.120</text><text x="78.94" y="102.8" text-anchor="end">0.0800</text><text x="78.94" y="136.3" text-anchor="end">0.0400</text><text x="78.94" y="169.8" text-anchor="end">0.00</text><text x="105.18" y="202.2" text-anchor="middle">0.000</text><text x="156.23" y="202.2" text-anchor="middle">60.00k</text><text x="207.28" y="202.2" text-anchor="middle">120.0k</text><text x="258.32" y="202.2" text-anchor="middle">180.0k</text><text x="379.30" y="59.0" text-anchor="end">0.550</text><text x="379.30" y="82.2" text-anchor="end">0.450</text><text x="379.30" y="105.4" text-anchor="end">0.350</text><text x="379.30" y="128.6" text-anchor="end">0.250</text><text x="379.30" y="151.8" text-anchor="end">0.150</text><text x="379.30" y="175.0" text-anchor="end">0.0500</text><text x="406.53" y="202.2" text-anchor="middle">0.000</text><text x="460.58" y="202.2" text-anchor="middle">60.00k</text><text x="514.63" y="202.2" text-anchor="middle">120.0k</text><text x="568.68" y="202.2" text-anchor="middle">180.0k</text><text x="67.95" y="304.0" text-anchor="end">0.550</text><text x="67.95" y="327.2" text-anchor="end">0.450</text><text x="67.95" y="350.4" text-anchor="end">0.350</text><text x="67.95" y="373.6" text-anchor="end">0.250</text><text x="67.95" y="396.8" text-anchor="end">0.150</text><text x="67.95" y="420.0" text-anchor="end">0.0500</text><text x="95.18" y="447.2" text-anchor="middle">0.000</text><text x="149.23" y="447.2" text-anchor="middle">60.00k</text><text x="203.27" y="447.2" text-anchor="middle">120.0k</text><text x="257.32" y="447.2" text-anchor="middle">180.0k</text></g>
<g font-family="'Liberation Sans', sans-serif" font-size="14.35" fill="#000"><text x="11.3" y="18.6">loss<tspan dx="0.85">/</tspan><tspan dx="0.75">kl</tspan><tspan font-size="11.4" dy="-0.4" dx="0.35">_</tspan><tspan dy="0.4" dx="0.2">loss</tspan></text><text x="351.3" y="18.6">loss<tspan dx="0.85">/</tspan><tspan dx="0.75">l2</tspan><tspan font-size="11.4" dy="-0.4" dx="0.35">_</tspan><tspan dy="0.4" dx="0.2">loss</tspan></text><text x="11.3" y="263.6">loss<tspan dx="0.85">/</tspan><tspan dx="0.75">loss</tspan></text></g>
<path transform="translate(6,213)" d="M7 14H5v5h5v-2H7v-3zm-2-4h2V7h3V5H5v5zm12 7h-3v2h5v-5h-2v3zM14 5v2h3v3h2V5h-5z" fill="#2196f3"/>
<path transform="translate(41,213)" d="M3 17h18v-2H3v2zm0 3h18v-1H3v1zm0-7h18v-3H3v3zm0-9v4h18V4H3z" fill="#2196f3"/>
<path transform="translate(346,213)" d="M7 14H5v5h5v-2H7v-3zm-2-4h2V7h3V5H5v5zm12 7h-3v2h5v-5h-2v3zM14 5v2h3v3h2V5h-5z" fill="#2196f3"/>
<path transform="translate(381,213)" d="M3 17h18v-2H3v2zm0 3h18v-1H3v1zm0-7h18v-3H3v3zm0-9v4h18V4H3z" fill="#2196f3"/>
</svg>
</body></html>
